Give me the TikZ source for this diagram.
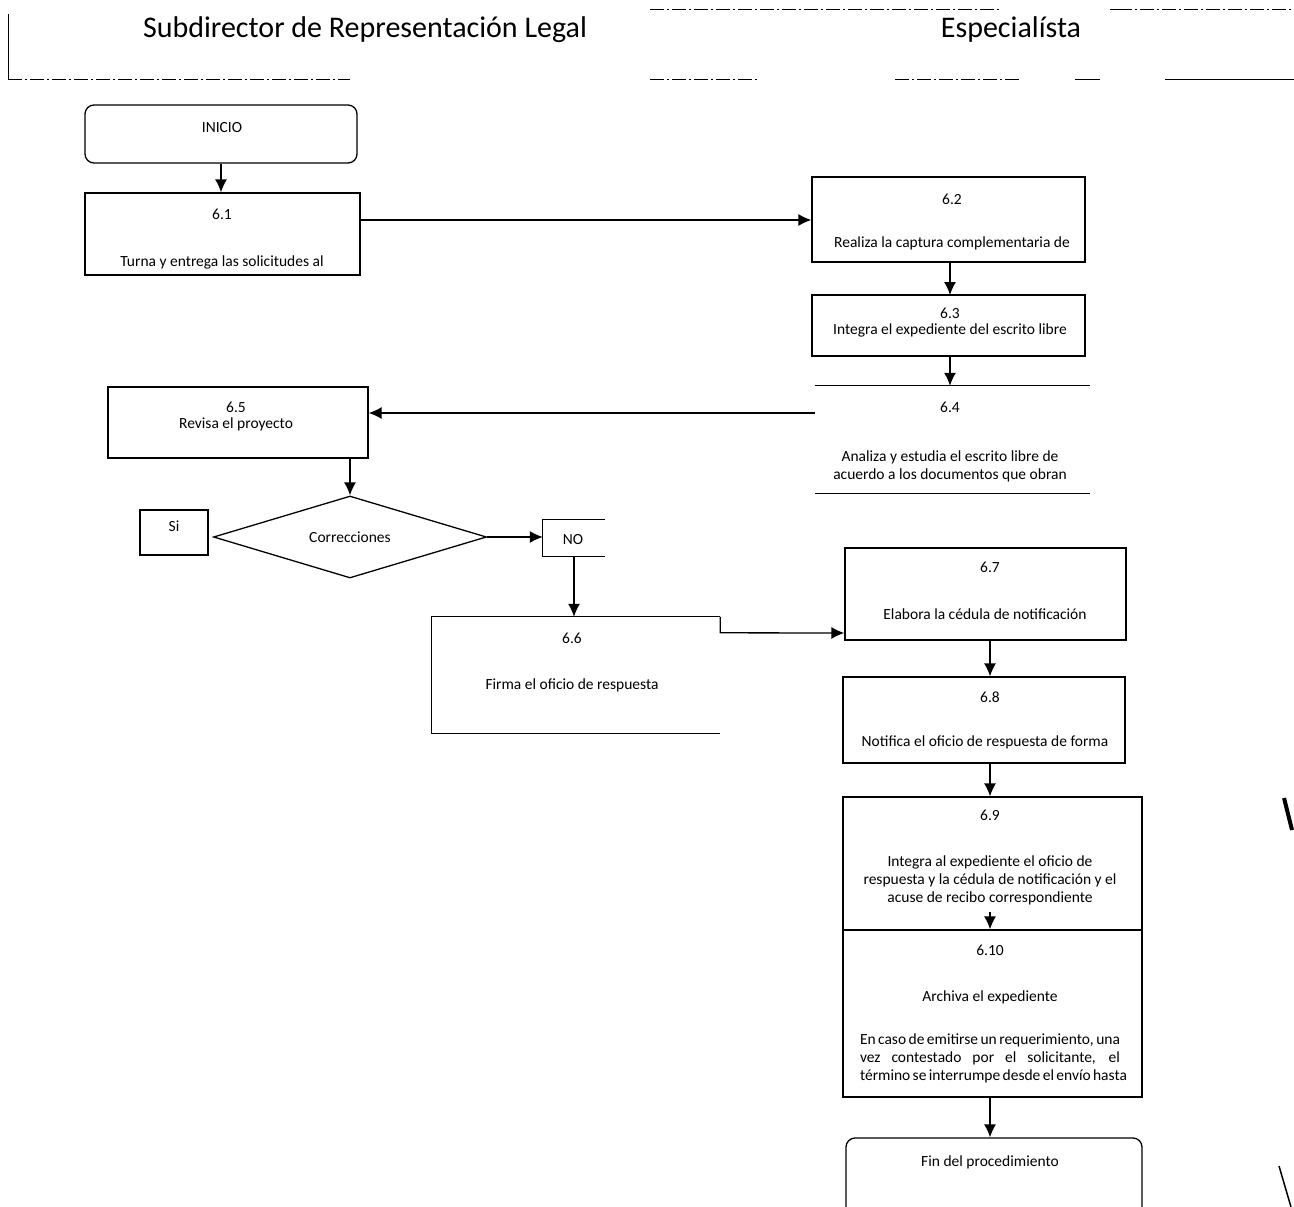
\documentclass[tikz,border=0pt]{standalone}
\usepackage{fontspec}
\setmainfont{Carlito}
\usetikzlibrary{shapes.geometric,arrows.meta}
\begin{document}
\begin{tikzpicture}[x=1pt,y=-1pt,
  box/.style={draw,line width=1.3pt,rectangle,inner sep=0pt},
  rbox/.style={draw,line width=1.3pt,rectangle,rounded corners=9pt,inner sep=0pt},
  ghost/.style={rectangle,inner sep=0pt},
  txt/.style={font=\fontsize{15.5}{18}\selectfont,align=center,inner sep=1pt},
  hdr/.style={font=\fontsize{30}{34}\selectfont,inner sep=0pt},
  arr/.style={line width=1.3pt,-{Latex[length=13pt,width=12pt]}},
  side/.style={line width=1.3pt},
  frameline/.style={line width=1pt},
  scan/.style={line width=1pt,dash pattern=on 14pt off 3pt on 2pt off 3pt}]
\useasboundingbox (0,0) rectangle (1294,1207);
\fill[white] (0,0) rectangle (1294,1207);

% header
\node[hdr] (h1) at (365,30) {Subdirector de Representación Legal};
\node[hdr] (h2) at (1011,30) {Especialísta};
\draw[frameline] (8,14) -- (8,80);
\draw[scan] (8,80) -- (350,80);
\draw[scan] (650,10) -- (1000,10);
\draw[frameline] (1110,10) -- (1118,10);
\draw[scan] (1118,10) -- (1294,10);
\draw[scan] (650,80) -- (760,80);
\draw[scan] (895,80) -- (1020,80);
\draw[frameline] (1075,80) -- (1100,80);
\draw[frameline] (1165,80) -- (1294,80);

% left column
\node[rbox,minimum width=272pt,minimum height=58pt] (ini) at (221,134) {};
\node[txt] (tini) at (222,128) {INICIO};
\node[box,minimum width=275pt,minimum height=82pt] (b61) at (222.5,234) {};
\node[txt] (t61a) at (222,214) {6.1};
\node[txt] (t61b) at (222,262) {Turna y entrega las solicitudes al};

\node[box,minimum width=260pt,minimum height=71pt] (b65) at (238,422.5) {};
\node[txt] (t65a) at (236,407) {6.5};
\node[txt] (t65b) at (236,424) {Revisa el proyecto};

\node[diamond,draw,line width=1.3pt,minimum width=273pt,minimum height=82pt,inner sep=0pt] (dia) at (350,537) {};
\node[txt] (tdia) at (350,537) {Correcciones};

\node[box,minimum width=68pt,minimum height=45pt] (si) at (174,532.5) {};
\node[txt] (tsi) at (174,526) {Si};

\node[ghost,minimum width=62pt,minimum height=36pt] (no) at (574,538) {};
\draw[side] (no.north east) -- (no.north west) -- (no.south west) -- (no.south east);
\node[txt] (tno) at (573,540) {NO};

\node[ghost,minimum width=288pt,minimum height=116pt] (b66) at (576,675) {};
\draw[side] (b66.north east) -- (b66.north west) -- (b66.south west) -- (b66.south east);
\node[txt] (t66a) at (572,638) {6.6};
\node[txt] (t66b) at (572,685) {Firma el oficio de respuesta};

% right column
\node[box,minimum width=273pt,minimum height=85pt] (b62) at (948.5,219.5) {};
\node[txt] (t62a) at (952,199) {6.2};
\node[txt] (t62b) at (952,243) {Realiza la captura complementaria de};

\node[box,minimum width=273pt,minimum height=61pt] (b63) at (948.5,325.5) {};
\node[txt] (t63a) at (950,313) {6.3};
\node[txt] (t63b) at (950,330) {Integra el expediente del escrito libre};

\node[ghost,minimum width=275pt,minimum height=107pt] (b64) at (952.5,439.5) {};
\draw[side] (b64.north west) -- (b64.north east);
\draw[side] (b64.south west) -- (b64.south east);
\node[txt] (t64a) at (950,407) {6.4};
\node[txt] (t64b) at (950,466) {Analiza y estudia el escrito libre de\\acuerdo a los documentos que obran};

\node[box,minimum width=281pt,minimum height=92pt] (b67) at (985.5,594) {};
\node[txt] (t67a) at (990,567) {6.7};
\node[txt] (t67b) at (985,614) {Elabora la cédula de notificación};

\node[box,minimum width=282pt,minimum height=86pt] (b68) at (984,720) {};
\node[txt] (t68a) at (990,697) {6.8};
\node[txt] (t68b) at (985,742) {Notifica el oficio de respuesta de forma};

\node[box,minimum width=299pt,minimum height=133pt] (b69) at (992.5,863.5) {};
\node[txt] (t69a) at (990,815) {6.9};
\node[txt] (t69b) at (990,880) {Integra al expediente el oficio de\\respuesta y la cédula de notificación y el\\acuse de recibo correspondiente};

\node[box,minimum width=299pt,minimum height=167pt] (b610) at (992.5,1013.5) {};
\node[txt] (t610a) at (990,950) {6.10};
\node[txt] (t610b) at (990,997) {Archiva el expediente};
\node[txt] (t610c) at (990,1058) {\makebox[260pt][s]{En caso de emitirse un requerimiento, una}\\\makebox[260pt][s]{vez contestado por el solicitante, el}\\\makebox[260pt][s]{término se interrumpe desde el envío hasta}};

\node[rbox,minimum width=296pt,minimum height=84pt] (fin) at (994,1180) {};
\node[txt] (tfin) at (990,1162) {Fin del procedimiento};

% connectors
\draw[arr] (ini.south) -- (ini.south |- b61.north);
\draw[arr] (b61.east |- 0,220) -- (b62.west |- 0,220);
\draw[arr] (950,262) -- (950,295);
\draw[arr] (b63.south -| 950,0) -- (b64.north -| 950,0);
\draw[arr] (b64.west |- 0,413) -- (b65.east |- 0,413);
\draw[arr] (dia.north |- b65.south) -- (dia.north);
\draw[arr] (dia.east) -- (no.west |- dia.east);
\draw[arr] (no.south) -- (no.south |- b66.north);
\draw[arr] (b66.north east) -- ++(0,16) -- (b67.west |- 0,633);
\draw[arr] (b67.south -| 990,0) -- (b68.north -| 990,0);
\draw[arr] (b68.south -| 990,0) -- (b69.north -| 990,0);
\coordinate (c910) at (990,912);
\draw[arr] (c910) -- (c910 |- b610.north);
\draw[arr] (b610.south -| 990,0) -- (fin.north -| 990,0);

% scan marks at right edge
\draw[line width=4pt] (1284,798) -- (1292,830);
\draw[line width=1.5pt] (1279,1166) -- (1291,1207);
\end{tikzpicture}
\end{document}
